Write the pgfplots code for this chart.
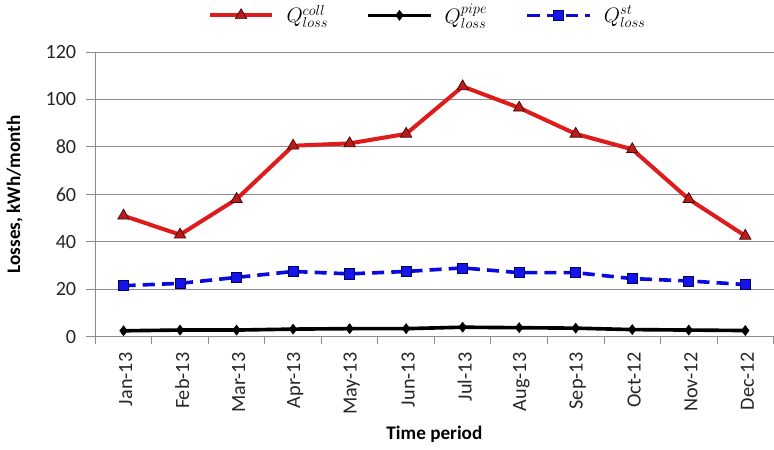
\documentclass[border=0pt]{standalone}
\usepackage{pgfplots}
\pgfplotsset{compat=1.18}
\usepackage{fontspec}
\setmainfont{Carlito}
\definecolor{rline}{RGB}{222,28,28}
\definecolor{rfill}{RGB}{185,28,28}
\definecolor{bline}{RGB}{10,10,220}
\definecolor{bfill}{RGB}{20,20,235}
\definecolor{gridc}{RGB}{140,140,140}
\begin{document}
\fontsize{20}{24}\selectfont
\begin{tikzpicture}
\begin{axis}[
  scale only axis, width=672pt, height=282pt,
  xmin=-0.5, xmax=11.5, ymin=0, ymax=120,
  axis lines*=left,
  axis line style={gridc, line width=0.9pt},
  tick align=outside,
  ytick={0,20,...,120},
  ymajorgrids, grid style={gridc, line width=0.9pt},
  xtick={0,...,11},
  xticklabels={Jan-13,Feb-13,Mar-13,Apr-13,May-13,Jun-13,Jul-13,Aug-13,Sep-13,Oct-12,Nov-12,Dec-12},
  xticklabel style={rotate=90, anchor=east, yshift=-2pt},
  yticklabel style={xshift=-3pt},
  major x tick style={draw=none},
  minor xtick={-0.5,0.5,...,11.5},
  major tick length=9pt, minor tick length=7pt,
  tick style={gridc, line width=0.9pt},
  /pgf/number format/assume math mode=true,
  ticklabel style={font=\fontsize{20}{24}\selectfont, text=black!85},
  xlabel={\textbf{Time period}},
  ylabel={\textbf{Losses, kWh/month}},
  ylabel shift=9pt,
  xlabel shift=-2pt,
  label style={font=\fontsize{19}{23}\selectfont},
  legend columns=3,
  legend style={at={(0.49,1.0)}, anchor=south, yshift=21pt, draw=none, fill=none,
    font=\fontsize{22}{26}\selectfont,
    /tikz/every odd column/.append style={column sep=10pt},
    /tikz/every even column/.append style={column sep=36pt}},
  legend image code/.code={\draw[mark repeat=2,mark phase=2] plot coordinates {(0pt,0pt) (31pt,0pt) (62pt,0pt)};},
]
\addplot[color=rline, line width=4pt, mark=triangle*, mark size=6.5pt,
  mark options={solid, fill=rfill, draw=black!70!red, line width=0.7pt}]
  coordinates {(0,51) (1,43) (2,58) (3,80.5) (4,81.5) (5,85.5) (6,105.5) (7,96.5) (8,85.5) (9,79) (10,58) (11,42.5)};
\addlegendentry{$Q^{coll}_{loss}$}
\addplot[color=black, line width=3.6pt, mark=diamond*, mark size=5pt,
  mark options={solid, fill=black, line width=0.5pt}]
  coordinates {(0,2.5) (1,2.8) (2,2.8) (3,3.2) (4,3.4) (5,3.4) (6,4) (7,3.8) (8,3.6) (9,3.0) (10,2.8) (11,2.6)};
\addlegendentry{$Q^{pipe}_{loss}$}
\addplot[color=bline, line width=3.6pt, dash pattern=on 12pt off 7pt, mark=square*, mark size=5pt,
  mark options={solid, fill=bfill, draw=blue!35!black, line width=0.7pt}]
  coordinates {(0,21.5) (1,22.5) (2,25) (3,27.5) (4,26.5) (5,27.5) (6,29) (7,27) (8,27) (9,24.5) (10,23.5) (11,22)};
\addlegendentry{$Q^{st}_{loss}$}
\end{axis}
\end{tikzpicture}
\end{document}
